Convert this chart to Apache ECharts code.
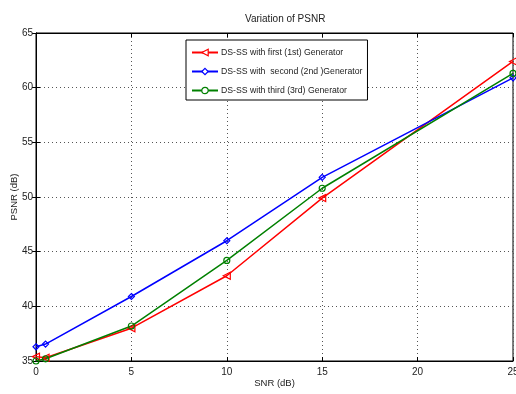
<!DOCTYPE html>
<html>
<head>
<meta charset="utf-8">
<script src="https://cdn.jsdelivr.net/npm/echarts@6/dist/echarts.min.js"></script>
<style>html,body{margin:0;padding:0;background:#fff}#c{width:516px;height:394px}</style>
</head>
<body>
<div id="c"></div>
<script>
var snr = [0, 0.5, 5, 10, 15, 25];
var gen1 = [35.4, 35.3, 38.0, 42.8, 49.9, 62.4];
var gen2 = [36.3, 36.55, 40.9, 46.0, 51.8, 60.9];
var gen3 = [35.0, 35.2, 38.2, 44.2, 50.8, 61.3];
var seriesNames = ['DS-SS with first (1st) Generator', 'DS-SS with  second (2nd )Generator', 'DS-SS with third (3rd) Generator'];
var xTicks = [0, 5, 10, 15, 20, 25];
var yTicks = [35, 40, 45, 50, 55, 60, 65];

var FONT = '"Liberation Sans Narrow", "Arial Narrow", "Liberation Sans", sans-serif';
function pairs(ys){ return snr.map(function(x,i){ return [x, ys[i]]; }); }
var chart = echarts.init(document.getElementById('c'), null, {renderer:'canvas'});
var axisCommon = {
  axisLine:{show:true, lineStyle:{color:'#000', width:1}},
  axisTick:{show:true, inside:true, length:4, lineStyle:{color:'#000'}},
  splitLine:{show:false}
};
var dotted = {splitLine:{show:true, lineStyle:{color:'#555', type:[1,3], width:1}}};
function mk(name, data, color, symbol, rot){
  return {name:name, type:'line', data:pairs(data), symbol:symbol, symbolSize:symbol==='triangle'?7:6,
    symbolRotate:rot, showSymbol:true,
    lineStyle:{color:color, width:1.5}, itemStyle:{color:'rgba(255,255,255,0)', borderColor:color, borderWidth:1.2},
    emphasis:{disabled:true}, animation:false, z:3};
}
chart.setOption({
  animation:false,
  title:{text:'Variation of PSNR', left:240, top:9, textStyle:{fontFamily:FONT, fontSize:10, fontWeight:'normal', color:'#222'}},
  grid:{left:36, right:3, top:33, bottom:33, show:true, borderColor:'#000', borderWidth:1, backgroundColor:'#fff', outerBoundsMode:'none', containLabel:false},
  legend:{orient:'vertical', left:186, top:40, itemWidth:26, itemHeight:8, itemGap:10, padding:[8,5,5,5],
    borderColor:'#000', borderWidth:1, backgroundColor:'#fff', data:seriesNames,
    itemStyle:{color:'#fff', borderWidth:1.2},
    textStyle:{fontFamily:FONT, fontSize:8.7, color:'#222', padding:[0,0,0,-2]}},
  xAxis:[Object.assign({type:'value', min:0, max:25, interval:5, position:'bottom',
      name:'SNR (dB)', nameLocation:'middle', nameGap:17, nameMoveOverlap:false,
      nameTextStyle:{fontFamily:FONT, fontSize:9.5, color:'#222'},
      axisLabel:{fontFamily:FONT, fontSize:10, color:'#222', margin:6,
        formatter:function(v){ return xTicks.indexOf(v)>=0 ? String(v) : ''; }}}, axisCommon, dotted),
    Object.assign({type:'value', min:0, max:25, interval:5, position:'top', axisLabel:{show:false}}, axisCommon)],
  yAxis:[Object.assign({type:'value', min:35, max:65, interval:5, position:'left',
      name:'PSNR (dB)', nameLocation:'middle', nameGap:17, nameMoveOverlap:false,
      nameTextStyle:{fontFamily:FONT, fontSize:9.5, color:'#222'},
      axisLabel:{fontFamily:FONT, fontSize:10, color:'#222', margin:3,
        formatter:function(v){ return yTicks.indexOf(v)>=0 ? String(v) : ''; }}}, axisCommon, dotted),
    Object.assign({type:'value', min:35, max:65, interval:5, position:'right', axisLabel:{show:false}}, axisCommon)],
  series:[
    mk(seriesNames[0], gen1, '#ff0000', 'triangle', 90),
    mk(seriesNames[1], gen2, '#0000ff', 'diamond', 0),
    mk(seriesNames[2], gen3, '#008000', 'circle', 0)
  ]
});
</script>
</body>
</html>
